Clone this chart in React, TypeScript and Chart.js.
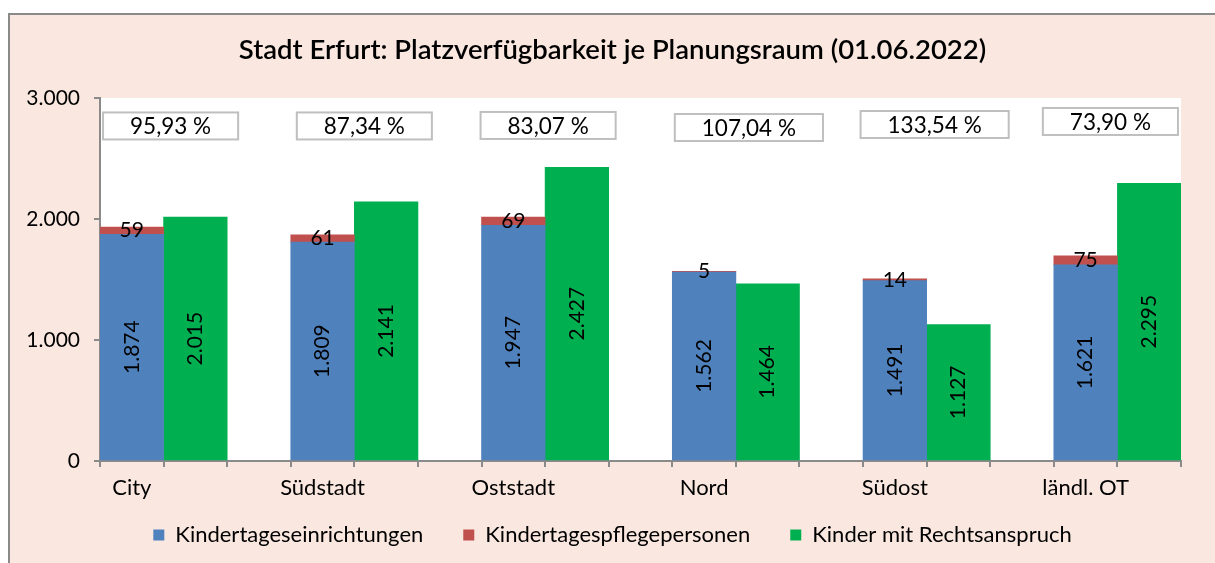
import React, { useEffect, useRef } from 'react';
import { Chart, registerables } from 'chart.js';

Chart.register(...registerables);

// ---- data ----
const districts = ['City', 'Südstadt', 'Oststadt', 'Nord', 'Südost', 'ländl. OT'];
const kitaPlaces = [1874, 1809, 1947, 1562, 1491, 1621];
const tagespflegePlaces = [59, 61, 69, 5, 14, 75];
const childrenEntitled = [2015, 2141, 2427, 1464, 1127, 2295];
const availabilityLabels = ['95,93 %', '87,34 %', '83,07 %', '107,04 %', '133,54 %', '73,90 %'];
const seriesNames = ['Kindertageseinrichtungen', 'Kindertagespflegepersonen', 'Kinder mit Rechtsanspruch'];
const yTickValues = [0, 1000, 2000, 3000];
const titleText = 'Stadt Erfurt: Platzverfügbarkeit je Planungsraum (01.06.2022)';

const FONT = 'Lato';
const COLORS = ['#4F81BD', '#C0504D', '#00B050'];
const AXIS = '#8a8a8a';
const SIDE = 34;

const fmt = (v: number) => String(v).replace(/\B(?=(\d{3})+(?!\d))/g, '.');

// 3 slots per district (stacked bar, green bar, gap), last gap dropped
const slotLabels: string[] = [];
const blueSlots: (number | null)[] = [];
const redSlots: (number | null)[] = [];
const greenSlots: (number | null)[] = [];
districts.forEach((d, i) => {
  slotLabels.push(d, '');
  blueSlots.push(kitaPlaces[i], null);
  redSlots.push(tagespflegePlaces[i], null);
  greenSlots.push(null, childrenEntitled[i]);
  if (i < districts.length - 1) {
    slotLabels.push('');
    blueSlots.push(null);
    redSlots.push(null);
    greenSlots.push(null);
  }
});

const chartBg = {
  id: 'chartBg',
  afterLayout(chart: any) {
    // centre title and legend over the whole frame
    if (chart.titleBlock) chart.titleBlock.left = SIDE;
    if (chart.legend) {
      chart.legend.left = SIDE;
      chart.legend.top = 469;
    }
  },
  beforeDraw(chart: any) {
    const { ctx, chartArea: a } = chart;
    ctx.save();
    ctx.fillStyle = '#ffffff';
    ctx.fillRect(a.left, a.top, a.right - a.left, a.bottom - a.top);
    ctx.restore();
  },
};

const valueLabels = {
  id: 'valueLabels',
  afterDatasetsDraw(chart: any) {
    const { ctx } = chart;
    chart.data.datasets.forEach((ds: any, di: number) => {
      const meta = chart.getDatasetMeta(di);
      meta.data.forEach((el: any, i: number) => {
        const v = ds.data[i];
        if (v == null) return;
        const { x, y, base } = el.getProps(['x', 'y', 'base'], true);
        const cy = (y + base) / 2;
        ctx.save();
        ctx.font = `21px ${FONT}`;
        ctx.fillStyle = '#000';
        ctx.textAlign = 'center';
        ctx.textBaseline = 'middle';
        if (di === 1) {
          ctx.fillText(fmt(v), x, cy);
        } else {
          ctx.translate(x, cy);
          ctx.rotate(-Math.PI / 2);
          ctx.fillText(fmt(v), 0, 0);
        }
        ctx.restore();
      });
    });
  },
};

const boxXShift = [7, 10, 3, 13, 8, -7];
const boxYValue = [2769, 2769, 2773, 2756, 2781, 2806];

const percentBoxes = {
  id: 'percentBoxes',
  afterDraw(chart: any) {
    const { ctx } = chart;
    const xs = chart.scales.x;
    const ys = chart.scales.y;
    ctx.save();
    ctx.font = `22.5px ${FONT}`;
    availabilityLabels.forEach((t, i) => {
      const cx = (xs.getPixelForValue(i * 3) + xs.getPixelForValue(i * 3 + 1)) / 2 + boxXShift[i];
      const cy = ys.getPixelForValue(boxYValue[i]);
      const w = ctx.measureText(t).width + 54;
      const h = 27;
      ctx.fillStyle = '#ffffff';
      ctx.fillRect(cx - w / 2, cy - h / 2, w, h);
      ctx.strokeStyle = '#bfbfbf';
      ctx.lineWidth = 2;
      ctx.strokeRect(cx - w / 2, cy - h / 2, w, h);
      ctx.fillStyle = '#000';
      ctx.textAlign = 'center';
      ctx.textBaseline = 'middle';
      ctx.fillText(t, cx, cy + 1);
    });
    ctx.restore();
  },
};

export default function App() {
  const ref = useRef<HTMLCanvasElement | null>(null);
  useEffect(() => {
    document.body.style.overflow = 'hidden';
    const chart = new Chart(ref.current as HTMLCanvasElement, {
      type: 'bar',
      data: {
        labels: slotLabels,
        datasets: [
          { label: seriesNames[0], data: blueSlots, backgroundColor: COLORS[0] },
          { label: seriesNames[1], data: redSlots, backgroundColor: COLORS[1] },
          { label: seriesNames[2], data: greenSlots, backgroundColor: COLORS[2] },
        ],
      },
      options: {
        responsive: false,
        animation: false,
        devicePixelRatio: 1,
        datasets: { bar: { categoryPercentage: 1, barPercentage: 1, borderWidth: 0 } },
        layout: { padding: { left: 0, right: SIDE, top: 0, bottom: 0 } },
        scales: {
          x: {
            stacked: true,
            grid: { offset: true, drawOnChartArea: false, drawTicks: true, tickLength: 6, color: AXIS, lineWidth: 2 },
            border: { color: AXIS, width: 2 },
            ticks: { autoSkip: false, maxRotation: 0, padding: 8, color: '#000', font: { family: FONT, size: 22 } },
            afterFit: (s: any) => { s.height = 54; },
          },
          y: {
            stacked: true,
            min: 0,
            max: 3000,
            afterBuildTicks: (s: any) => { s.ticks = yTickValues.map((v) => ({ value: v })); },
            grid: { drawOnChartArea: false, drawTicks: true, tickLength: 6, color: AXIS, lineWidth: 2 },
            border: { color: AXIS, width: 2 },
            ticks: { padding: 14, color: '#000', font: { family: FONT, size: 21 }, callback: (v: any) => fmt(Number(v)) },
            afterFit: (s: any) => { s.width = 90; },
          },
        },
        plugins: {
          tooltip: { enabled: false },
          title: {
            display: true,
            text: titleText,
            color: '#000',
            font: { family: FONT, size: 27.5, weight: '600' },
            padding: { top: 18.5, bottom: 31.5 },
          },
          legend: {
            position: 'bottom',
            maxHeight: 48,
            labels: { boxWidth: 11, boxHeight: 11, padding: 40, color: '#000', font: { family: FONT, size: 22 } },
          },
        },
      },
      plugins: [chartBg, valueLabels, percentBoxes],
    } as any);
    return () => chart.destroy();
  }, []);

  return (
    <div
      style={{
        position: 'absolute',
        left: 8,
        top: 13,
        width: 1205,
        height: 548,
        borderLeft: `2px solid ${AXIS}`,
        borderTop: `2px solid ${AXIS}`,
        background: '#FAE8E0',
      }}
    >
      <canvas ref={ref} width={1205} height={548} style={{ display: 'block' }} />
    </div>
  );
}
